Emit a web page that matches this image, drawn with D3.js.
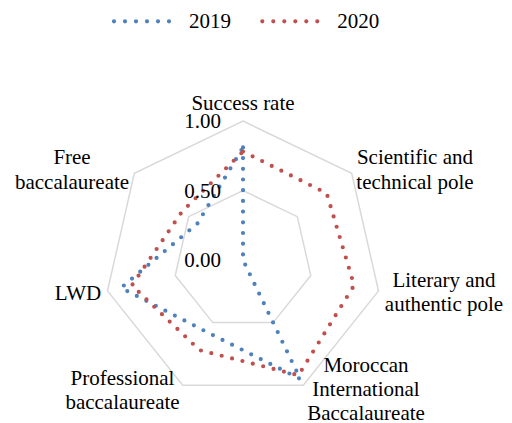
<!DOCTYPE html>
<html><head><meta charset="utf-8">
<script src="https://cdn.jsdelivr.net/npm/d3@7"></script>
</head><body style="margin:0;background:#fff">
<svg id="c" width="512" height="423" style="display:block"></svg>
<script>
const categories = ["Success rate", "Scientific and\ntechnical pole", "Literary and\nauthentic pole", "Moroccan\nInternational\nBaccalaureate", "Professional\nbaccalaureate", "LWD", "Free\nbaccalaureate"];
const series2019 = [0.81, 0.00, 0.00, 0.95, 0.58, 0.90, 0.42];
const series2020 = [0.78, 0.77, 0.82, 0.92, 0.72, 0.82, 0.56];
const tickValues = [0, 0.5, 1];
const tickLabels = ["0.00", "0.50", "1.00"];
const seriesNames = ["2019", "2020"];

const colors = ["#4F81BD", "#C0504D"];
const cx = 243, cy = 260, R = 139;
const labelOffsets = [[0,-18.3],[63.3,-3.8],[65.5,0.8],[62.7,3.7],[-60.2,4.8],[-29.5,2.4],[-62.3,-3.8]];
const lineH = 24.4;

const svg = d3.select("#c");
const g = svg.append("g").attr("transform", `translate(${cx},${cy})`);
const n = categories.length;
const angle = d3.scaleLinear().domain([0, n]).range([0, 2 * Math.PI]);
const r = d3.scaleLinear().domain([0, 1]).range([0, R]);

function styleText(sel) {
  return sel.style("font-family", "Liberation Serif").style("font-size", "21px").attr("fill", "#000");
}

// grid rings
const ring = d3.lineRadial().angle((d, i) => angle(i)).radius(d => r(d)).curve(d3.curveLinearClosed);
tickValues.filter(t => t > 0).forEach(t => {
  g.append("path").attr("d", ring(d3.range(n).map(() => t)))
    .attr("fill", "none").attr("stroke", "#D9D9D9").attr("stroke-width", 1.5);
});

// series
const line = d3.lineRadial().angle((d, i) => angle(i)).radius(d => r(d)).curve(d3.curveLinearClosed);
[series2019, series2020].forEach((s, k) => {
  g.append("path").attr("d", line(s)).attr("fill", "none")
    .attr("stroke", colors[k]).attr("stroke-width", 4.2)
    .attr("stroke-linecap", "round").attr("stroke-dasharray", "0 10.7");
});

// tick labels
tickValues.forEach((t, i) => {
  styleText(g.append("text")).attr("x", -22).attr("y", -r(t) + 7)
    .attr("text-anchor", "end").text(tickLabels[i]);
});

// category labels
categories.forEach((c, i) => {
  const a = angle(i);
  const vx = Math.sin(a) * r(1), vy = -Math.cos(a) * r(1);
  const lx = vx + labelOffsets[i][0], ly = vy + labelOffsets[i][1];
  const lines = c.split("\n");
  lines.forEach((l, j) => {
    styleText(g.append("text")).attr("text-anchor", "middle")
      .attr("x", lx).attr("y", ly + (j - (lines.length - 1) / 2) * lineH + 7).text(l);
  });
});

// legend
const legendX = [114, 262.3];
seriesNames.forEach((name, k) => {
  svg.append("line").attr("x1", legendX[k]).attr("x2", legendX[k] + 66)
    .attr("y1", 21.3).attr("y2", 21.3).attr("stroke", colors[k]).attr("stroke-width", 4.2)
    .attr("stroke-linecap", "round").attr("stroke-dasharray", "0 11");
  styleText(svg.append("text")).attr("x", legendX[k] + 75).attr("y", 28.3).text(name);
});
</script>
</body></html>
